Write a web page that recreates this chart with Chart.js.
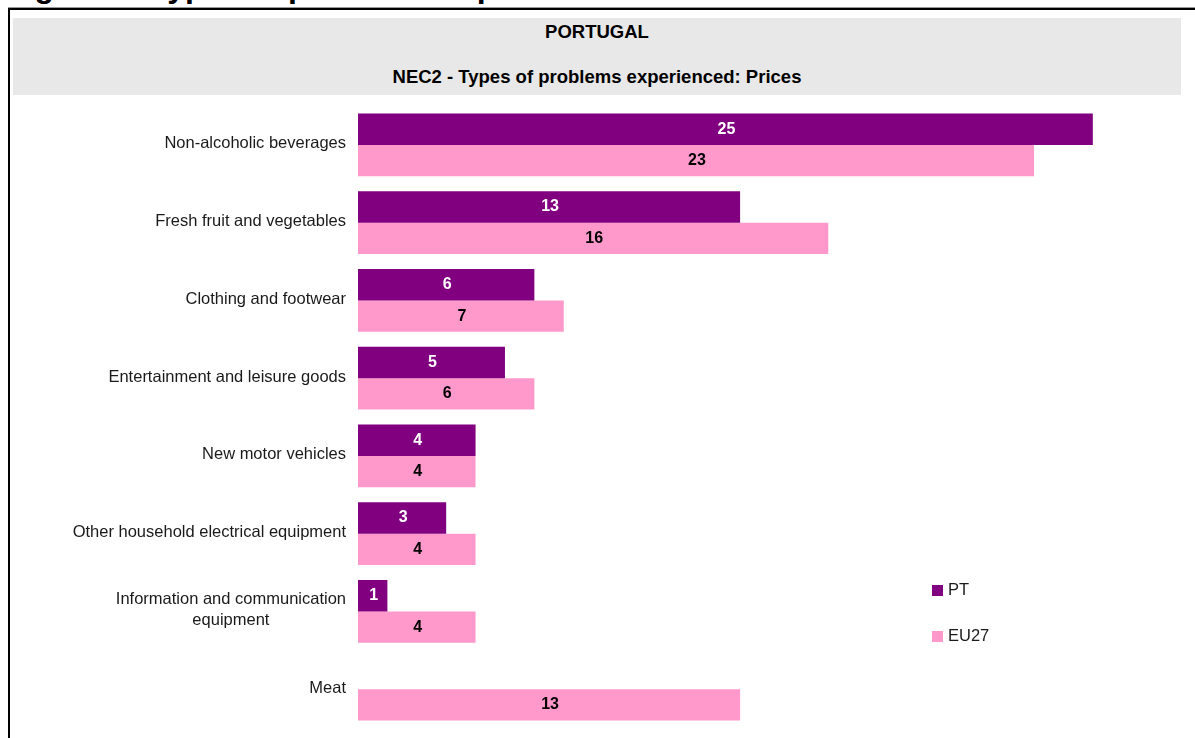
<!DOCTYPE html>
<html>
<head>
<meta charset="utf-8">
<script src="https://cdn.jsdelivr.net/npm/chart.js@4/dist/chart.umd.min.js"></script>
<style>
  body { margin: 0; background: #fff; font-family: "Liberation Sans", Arial, sans-serif; overflow: hidden; }
  #pageTitle { position: absolute; left: 6px; top: -30px; font-size: 32px; line-height: 32px; font-weight: bold; color: #000; white-space: nowrap; }
  #frame { position: absolute; left: 8px; top: 8px; width: 1200px; height: 740px; border-left: 2px solid #000; border-top: 2px solid #000; box-shadow: 0 -1px 0 #999; background: #fff; }
  #band { position: absolute; left: 13px; top: 18px; width: 1168px; height: 77px; background: #e8e8e8; }
  #band div { position: absolute; left: 0; width: 100%; text-align: center; font-weight: bold; font-size: 18.5px; color: #000; }
  #wrap { position: absolute; left: 10px; top: 96px; }
</style>
</head>
<body>
<div id="pageTitle">Figure 3: Types of problems experienced: Prices</div>
<div id="frame"></div>
<div id="band">
  <div style="top:3px">PORTUGAL</div>
  <div style="top:48px">NEC2 - Types of problems experienced: Prices</div>
</div>
<div id="wrap"><canvas id="prices" width="1185" height="642"></canvas></div>
<script>
const categories = [
    'Non-alcoholic beverages',
    'Fresh fruit and vegetables',
    'Clothing and footwear',
    'Entertainment and leisure goods',
    'New motor vehicles',
    'Other household electrical equipment',
    ['Information and communication', 'equipment'],
    'Meat'
];
const ptValues = [25, 13, 6, 5, 4, 3, 1, null];
const eu27Values = [23, 16, 7, 6, 4, 4, 4, 13];
const seriesNames = ['PT', 'EU27'];
const seriesColors = ['#800080', '#ff99cc'];

const font = '"Liberation Sans", Arial, sans-serif';

// category labels, lines centred on each other like the original
const yLabels = {
    id: 'yLabels',
    afterDraw(chart) {
        let ctx = chart.ctx;
        let y = chart.scales.y;
        ctx.save();
        ctx.font = '16.5px ' + font;
        ctx.fillStyle = '#1a1a1a';
        ctx.textAlign = 'center';
        ctx.textBaseline = 'middle';
        categories.forEach((cat, i) => {
            let lines = Array.isArray(cat) ? cat : [cat];
            let w = Math.max(...lines.map(l => ctx.measureText(l).width));
            let cx = y.right - 12 - w / 2;
            let cy = y.getPixelForTick(i) - 1;
            lines.forEach((l, j) => ctx.fillText(l, cx, cy + (j - (lines.length - 1) / 2) * 21));
        });
        ctx.restore();
    }
};

// value labels in the middle of each bar
const barValues = {
    id: 'barValues',
    afterDatasetsDraw(chart) {
        let ctx = chart.ctx;
        ctx.save();
        ctx.font = 'bold 16px ' + font;
        ctx.textAlign = 'center';
        ctx.textBaseline = 'middle';
        chart.data.datasets.forEach((ds, d) => {
            let meta = chart.getDatasetMeta(d);
            ctx.fillStyle = d === 0 ? '#ffffff' : '#000000';
            meta.data.forEach((bar, i) => {
                if (ds.data[i] == null) return;
                ctx.fillText(ds.data[i], (bar.x + bar.base) / 2 + 1, bar.y);
            });
        });
        ctx.restore();
    }
};

// small legend sitting inside the plot, lower right
const sideLegend = {
    id: 'sideLegend',
    afterDraw(chart) {
        let ctx = chart.ctx;
        ctx.save();
        ctx.font = '16.5px ' + font;
        ctx.textBaseline = 'middle';
        ctx.textAlign = 'left';
        chart.data.datasets.forEach((ds, d) => {
            let cy = 494.5 + d * 46;
            ctx.fillStyle = ds.backgroundColor;
            ctx.fillRect(922, cy - 5.5, 11, 11);
            ctx.fillStyle = '#1a1a1a';
            ctx.fillText(ds.label, 938, cy);
        });
        ctx.restore();
    }
};

let ctx = document.getElementById('prices').getContext('2d');
let pricesChart = new Chart(ctx, {
    type: 'bar',
    data: {
        labels: categories,
        datasets: [
            { label: seriesNames[0], data: ptValues, backgroundColor: seriesColors[0] },
            { label: seriesNames[1], data: eu27Values, backgroundColor: seriesColors[1] }
        ]
    },
    options: {
        indexAxis: 'y',
        responsive: false,
        animation: false,
        devicePixelRatio: 1,
        categoryPercentage: 0.81,
        barPercentage: 1,
        layout: { padding: { top: 10, bottom: 10, left: 0, right: 14 } },
        scales: {
            x: { display: false, min: 0, max: 28 },
            y: {
                grid: { display: false },
                border: { display: false },
                ticks: { display: false },
                afterFit: scale => { scale.width = 348; }
            }
        },
        plugins: {
            legend: { display: false },
            tooltip: { enabled: false }
        }
    },
    plugins: [yLabels, barValues, sideLegend]
});
</script>
</body>
</html>
